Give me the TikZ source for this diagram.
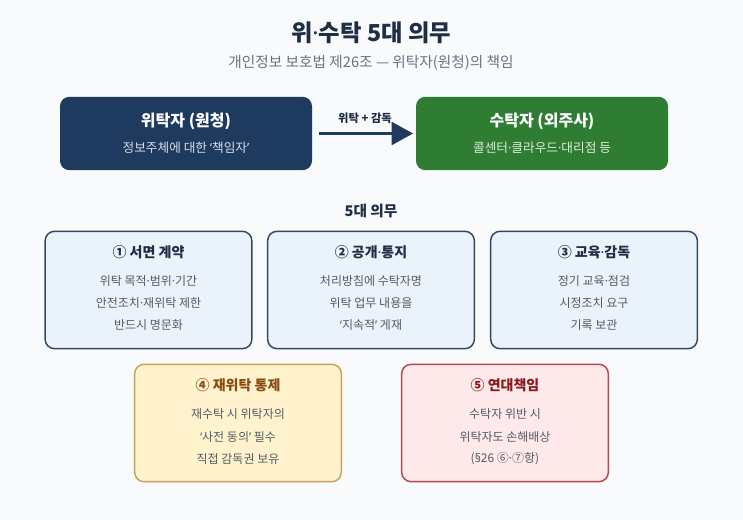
\documentclass[tikz,border=0pt]{standalone}
\usepackage{fontspec}
\setmainfont{Noto Sans CJK KR}
\newfontfamily\latinf{Noto Sans}
\newcommand\md{{\latinf ·}}
\newcommand\oq{{\latinf ‘}}
\newcommand\cq{{\latinf ’}}
\usetikzlibrary{arrows.meta}
\definecolor{bgc}{HTML}{F8FAFC}
\definecolor{navy}{HTML}{1F3A5F}
\definecolor{grn}{HTML}{2E7D32}
\definecolor{ttl}{HTML}{1F2D45}
\definecolor{subg}{HTML}{6B7280}
\definecolor{bfill}{HTML}{EAF2FC}
\definecolor{bdraw}{HTML}{34495E}
\definecolor{linec}{HTML}{555B66}
\definecolor{yfill}{HTML}{FFF3CD}
\definecolor{ydraw}{HTML}{C9A25A}
\definecolor{yttl}{HTML}{8A4B12}
\definecolor{rfill}{HTML}{FDE8EA}
\definecolor{rdraw}{HTML}{B5474F}
\definecolor{rttl}{HTML}{8B1A1F}
\definecolor{lsub}{HTML}{D6DEE8}
\tikzset{
  topbox/.style={rounded corners=7pt, minimum width=189pt, minimum height=55pt, inner sep=0pt},
  dutybox/.style={rounded corners=7pt, line width=1.1pt, minimum width=155pt, minimum height=88pt, inner sep=0pt},
  toptitle/.style={font=\bfseries\fontsize{12}{14}\selectfont, text=white},
  topsub/.style={font=\fontsize{9.5}{11}\selectfont},
  dtitle/.style={font=\bfseries\fontsize{10.5}{12}\selectfont},
  dline/.style={font=\fontsize{9}{11}\selectfont, text=linec},
}
\begin{document}
\begin{tikzpicture}[x=0.75pt,y=-0.75pt]
\fill[bgc] (0,0) rectangle (743,520);
\useasboundingbox (0,0) rectangle (743,520);
% title
\node[font=\bfseries\fontsize{17.5}{20}\selectfont, text=ttl] (title) at (371,33) {위\md 수탁 5대 의무};
\node[font=\fontsize{11}{13}\selectfont, text=subg] (subtitle) at (371,63) {개인정보 보호법 제26조 — 위탁자(원청)의 책임};
% top boxes
\node[topbox, fill=navy] (left) at (186,133.5) {};
\node[toptitle] (lt) at (186,121) {위탁자 (원청)};
\node[topsub, text=lsub] (ls) at (186,148) {정보주체에 대한 \oq 책임자\cq};
\node[topbox, fill=grn] (right) at (542,133.5) {};
\node[toptitle] (rt) at (542,121) {수탁자 (외주사)};
\node[topsub, text=white!85!grn] (rs) at (542,148) {콜센터\md 클라우드\md 대리점 등};
% arrow
\draw[navy, line width=2.2pt, -{Triangle[length=16pt,width=17pt]}] (left.east)++(7,0) -- ([xshift=-2pt]right.west);
\node[font=\bfseries\fontsize{8.5}{10}\selectfont, text=ttl] (alab) at (365,118) {위탁 + 감독};
% section heading
\node[font=\bfseries\fontsize{11}{13}\selectfont, text=ttl] (sec) at (371,211) {5대 의무};
% duty boxes row 1
\node[dutybox, fill=bfill, draw=bdraw] (d1) at (148.5,290) {};
\node[dtitle, text=ttl] (d1t) at (148.5,252) {① 서면 계약};
\node[dline] (d1a) at (148.5,281) {위탁 목적\md 범위\md 기간};
\node[dline] (d1b) at (148.5,303) {안전조치\md 재위탁 제한};
\node[dline] (d1c) at (148.5,325) {반드시 명문화};
\node[dutybox, fill=bfill, draw=bdraw] (d2) at (371,290) {};
\node[dtitle, text=ttl] (d2t) at (371,252) {② 공개\md 통지};
\node[dline] (d2a) at (371,281) {처리방침에 수탁자명};
\node[dline] (d2b) at (371,303) {위탁 업무 내용을};
\node[dline] (d2c) at (371,325) {\oq 지속적\cq\ 게재};
\node[dutybox, fill=bfill, draw=bdraw] (d3) at (594,290) {};
\node[dtitle, text=ttl] (d3t) at (594,252) {③ 교육\md 감독};
\node[dline] (d3a) at (594,281) {정기 교육\md 점검};
\node[dline] (d3b) at (594,303) {시정조치 요구};
\node[dline] (d3c) at (594,325) {기록 보관};
% row 2
\node[dutybox, fill=yfill, draw=ydraw] (d4) at (238,423) {};
\node[dtitle, text=yttl] (d4t) at (238,385) {④ 재위탁 통제};
\node[dline] (d4a) at (238,414) {재수탁 시 위탁자의};
\node[dline] (d4b) at (238,437) {\oq 사전 동의\cq\ 필수};
\node[dline] (d4c) at (238,459) {직접 감독권 보유};
\node[dutybox, fill=rfill, draw=rdraw] (d5) at (505,423) {};
\node[dtitle, text=rttl] (d5t) at (505,385) {⑤ 연대책임};
\node[dline] (d5a) at (505,414) {수탁자 위반 시};
\node[dline] (d5b) at (505,437) {위탁자도 손해배상};
\node[dline] (d5c) at (505,459) {({\latinf §}26 ⑥\md ⑦항)};
\end{tikzpicture}
\end{document}
